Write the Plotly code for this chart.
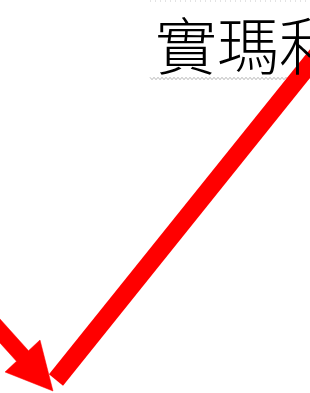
import plotly.graph_objects as go

# Content (pixel-space coordinates, y downward)
title_text = "實瑪利"
long_line_x = [56, 329]
long_line_y = [380, 40]
# arrow outline: shaft (two edges) + head (barb, tip, barb)
arrow_x = [-11.6, 28.5, 40, 53, 5, 16.5, -23.6]
arrow_y = [306.1, 350.7, 340, 391, 372, 361.3, 316.7]
dotted_x = [150, 310]
dotted_y = [1, 1]

RED = "#ff0000"

fig = go.Figure()

# long diagonal red line
fig.add_trace(go.Scatter(x=long_line_x, y=long_line_y, mode="lines",
                         line=dict(color=RED, width=18), hoverinfo="skip"))
# arrow (shaft + head) as one filled polygon
fig.add_trace(go.Scatter(x=arrow_x, y=arrow_y, mode="lines", fill="toself",
                         fillcolor=RED, line=dict(color=RED, width=0.5), hoverinfo="skip"))

# squiggly underline (decoration)
pts = []
x = 150.0
i = 0
while x <= 312:
    pts.append(f"{x:.1f},{78.5 + (1.2 if i % 2 else -1.2):.1f}")
    x += 2.0
    i += 1
wave_path = "M " + " L ".join(pts)

shapes = [
    dict(type="line", xref="x", yref="y", x0=dotted_x[0], x1=dotted_x[1],
         y0=dotted_y[0], y1=dotted_y[1], layer="below",
         line=dict(color="#c8c8c8", width=1, dash="1px,4px")),
    dict(type="path", xref="x", yref="y", path=wave_path, layer="below",
         line=dict(color="#b8b8b8", width=1)),
]

fig.update_layout(
    width=310, height=393,
    margin=dict(l=0, r=0, t=0, b=0),
    paper_bgcolor="white", plot_bgcolor="white",
    showlegend=False,
    xaxis=dict(range=[0, 310], visible=False, fixedrange=True),
    yaxis=dict(range=[393, 0], visible=False, fixedrange=True),
    shapes=shapes,
    annotations=[dict(
        text=title_text, xref="x", yref="y", x=153, y=43,
        xanchor="left", yanchor="middle", showarrow=False,
        font=dict(family="Noto Sans CJK TC", size=62, color="black", weight=300),
    )],
)

fig.write_html("out.html", config={"displayModeBar": False},
               post_script="document.body.style.margin='0';document.body.style.overflow='hidden';")
